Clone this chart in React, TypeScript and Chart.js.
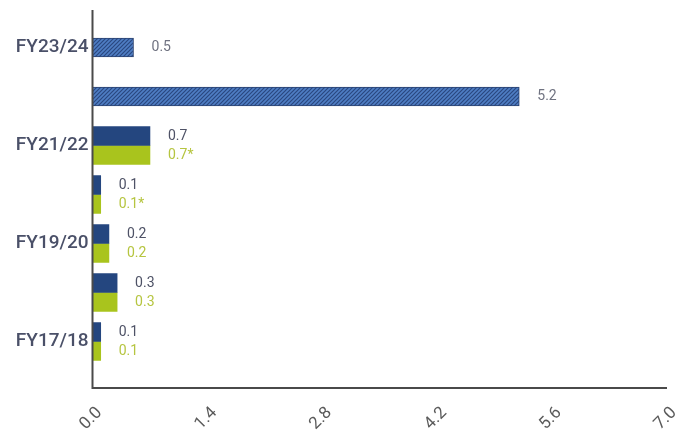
import React, { useEffect, useRef } from "react";
import { Chart, registerables } from "chart.js";

Chart.register(...registerables);

const categories = ["FY23/24", "FY22/23", "FY21/22", "FY20/21", "FY19/20", "FY18/19", "FY17/18"];
const blueValues = [0.5, 5.2, 0.7, 0.1, 0.2, 0.3, 0.1];
const greenValues = [null, null, 0.7, 0.1, 0.2, 0.3, 0.1];
const blueLabels = ["0.5", "5.2", "0.7", "0.1", "0.2", "0.3", "0.1"];
const greenLabels = ["", "", "0.7*", "0.1*", "0.2", "0.3", "0.1"];
const hatched = [true, true, false, false, false, false, false];
const xTicks = [0, 1.4, 2.8, 4.2, 5.6, 7.0];

function makePattern(): CanvasPattern | string {
  const c = document.createElement("canvas");
  c.width = 4;
  c.height = 4;
  const g = c.getContext("2d");
  if (!g) return "#3b63a6";
  g.fillStyle = "#4f7ec4";
  g.fillRect(0, 0, 4, 4);
  g.strokeStyle = "#2a4880";
  g.lineWidth = 1.2;
  g.beginPath();
  g.moveTo(-1, 5);
  g.lineTo(5, -1);
  g.moveTo(-1, 1);
  g.lineTo(1, -1);
  g.moveTo(3, 5);
  g.lineTo(5, 3);
  g.stroke();
  const p = g.createPattern(c, "repeat");
  return p || "#3b63a6";
}

export default function App() {
  const ref = useRef<HTMLCanvasElement>(null);

  useEffect(() => {
    if (!ref.current) return;
    const pattern = makePattern();

    const axisPlugin = {
      id: "axisLines",
      afterDraw(chart: any) {
        const { ctx, chartArea } = chart;
        ctx.save();
        ctx.strokeStyle = "#4a4a4a";
        ctx.lineWidth = 2;
        ctx.beginPath();
        ctx.moveTo(chartArea.left, chartArea.top - 13);
        ctx.lineTo(chartArea.left, chartArea.bottom + 22);
        ctx.lineTo(chartArea.right, chartArea.bottom + 22);
        ctx.stroke();
        ctx.restore();
      },
    };

    const labelPlugin = {
      id: "valueLabels",
      afterDatasetsDraw(chart: any) {
        const { ctx } = chart;
        ctx.save();
        ctx.font = "14px Roboto";
        ctx.textBaseline = "middle";
        ctx.textAlign = "left";
        chart.data.datasets.forEach((ds: any, di: number) => {
          const meta = chart.getDatasetMeta(di);
          meta.data.forEach((bar: any, i: number) => {
            const v = ds.data[i];
            if (v === null || v === undefined) return;
            const txt = di === 0 ? blueLabels[i] : greenLabels[i];
            if (di === 0) ctx.fillStyle = hatched[i] ? "#6f7280" : "#4e5266";
            else ctx.fillStyle = "#b6c540";
            ctx.fillText(txt, bar.x + 18, bar.y);
          });
        });
        ctx.restore();
      },
    };

    const chart = new Chart(ref.current, {
      type: "bar",
      data: {
        labels: categories,
        datasets: [
          {
            label: "A",
            data: blueValues,
            backgroundColor: hatched.map((h) => (h ? pattern : "#24467f")) as any,
            borderColor: hatched.map((h) => (h ? "#2b4270" : "#24467f")),
            borderWidth: hatched.map((h) => (h ? 1 : 0)),
            barThickness: 19,
            skipNull: true,
          } as any,
          {
            label: "B",
            data: greenValues,
            backgroundColor: "#a9c41d",
            borderWidth: 0,
            barThickness: 19,
            skipNull: true,
          } as any,
        ],
      },
      options: {
        indexAxis: "y",
        responsive: false,
        animation: false,
        layout: { padding: { top: 23, right: 27, left: 0, bottom: 0 }, autoPadding: false } as any,
        plugins: { legend: { display: false }, tooltip: { enabled: false } },
        scales: {
          x: {
            type: "linear",
            min: 0,
            max: 7,
            afterBuildTicks: (s: any) => {
              s.ticks = xTicks.map((v) => ({ value: v }));
            },
            afterFit: (s: any) => {
              s.height = 68;
              s.paddingRight = 0;
              s.paddingLeft = 0;
            },
            grid: { display: false, drawTicks: false },
            border: { display: false },
            ticks: {
              minRotation: 45,
              maxRotation: 45,
              padding: 37,
              labelOffset: 7,
              color: "#5a5a5a",
              font: { family: "Roboto", size: 17 },
              callback: (v: any) => Number(v).toFixed(1),
            },
          },
          y: {
            type: "category",
            afterFit: (s: any) => {
              s.width = 92.5;
              s.paddingTop = 0;
              s.paddingBottom = 0;
            },
            grid: { display: false, drawTicks: false },
            border: { display: false },
            ticks: {
              autoSkip: false,
              padding: 4,
              color: "#4a5068",
              font: { family: "Roboto", size: 19, weight: "500" },
              callback: (_v: any, i: number) => (i % 2 === 0 ? categories[i] : ""),
            },
          },
        },
      },
      plugins: [axisPlugin, labelPlugin],
    });
    return () => chart.destroy();
  }, []);

  return (
    <div style={{ position: "fixed", left: 0, top: 0, width: 694, height: 434, background: "#ffffff" }}>
      <canvas ref={ref} width={694} height={434} />
    </div>
  );
}
